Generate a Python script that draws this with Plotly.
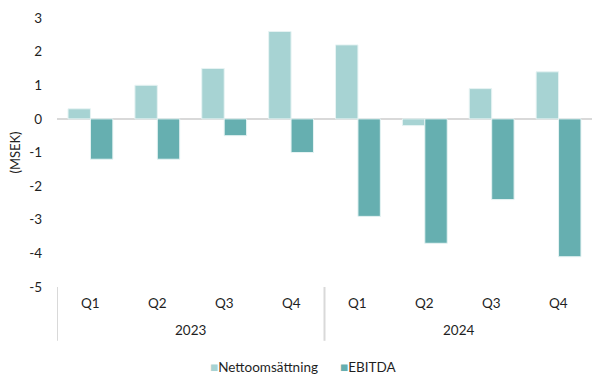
import plotly.graph_objects as go

# Quarterly figures, MSEK
years = ["2023", "2024"]
quarters = ["Q1", "Q2", "Q3", "Q4"]
netto = [0.3, 1.0, 1.5, 2.6, 2.2, -0.2, 0.9, 1.4]
ebitda = [-1.2, -1.2, -0.5, -1.0, -2.9, -3.7, -2.4, -4.1]
y_ticks = [3, 2, 1, 0, -1, -2, -3, -4, -5]

FONT = "Lato"
TEXT = "#1f1f1f"
FS = 13.5
C_NETTO = "#A7D3D3"
C_EBITDA = "#66AFB0"
GRID = "#D9D9D9"

# one category per period, e.g. "2023 Q1"
periods = [f"{y} {q}" for y in years for q in quarters]

fig = go.Figure()
fig.add_trace(go.Bar(
    x=periods, y=netto, name="Nettoomsättning",
    marker=dict(color=C_NETTO, line=dict(color="#E6F3F3", width=1)),
))
fig.add_trace(go.Bar(
    x=periods, y=ebitda, name="EBITDA",
    marker=dict(color=C_EBITDA, line=dict(color="#E6F3F3", width=1)),
))

fig.update_layout(
    width=592, height=374,
    margin=dict(l=57, r=0, t=18, b=87),
    paper_bgcolor="white", plot_bgcolor="white",
    barmode="group", bargap=0.33, bargroupgap=0,
    font=dict(family=FONT, size=FS, color=TEXT),
    showlegend=False,
)
fig.update_yaxes(
    range=[-5, 3], tickvals=y_ticks, ticktext=[str(v) for v in y_ticks],
    showgrid=False, zeroline=True, zerolinecolor=GRID, zerolinewidth=2,
    showline=False, ticks="", ticklabelstandoff=14,
    title=dict(text="(MSEK)", font=dict(size=FS - 0.5, color=TEXT), standoff=5),
    tickfont=dict(size=FS, color=TEXT),
)
fig.update_xaxes(
    type="category", categoryorder="array", categoryarray=periods,
    range=[-0.5, len(periods) - 0.5],
    showgrid=False, showline=False, ticks="", showticklabels=False,
)

annotations = []
shapes = []
# quarter labels and year labels below the plot
for i, p in enumerate(periods):
    annotations.append(dict(
        x=p, xref="x", y=-0.059, yref="paper", yanchor="middle",
        text=p.split(" ")[1], showarrow=False, font=dict(size=FS, color=TEXT),
    ))
for j, yr in enumerate(years):
    center = j * len(quarters) + (len(quarters) - 1) / 2
    annotations.append(dict(
        x=center, xref="x", y=-0.16, yref="paper", yanchor="middle",
        text=yr, showarrow=False, font=dict(size=FS, color=TEXT),
    ))
    # group divider at the start of each year
    x0 = j * len(quarters) - 0.5
    shapes.append(dict(
        type="line", xref="x", yref="paper", x0=x0, x1=x0, y0=0, y1=-0.2,
        line=dict(color=GRID, width=2),
    ))

# legend row: coloured swatch followed by series name
legend_items = [("Nettoomsättning", C_NETTO, 0.283), ("EBITDA", C_EBITDA, 0.526)]
for name, c, xpos in legend_items:
    annotations.append(dict(
        x=xpos, xref="paper", xanchor="left", y=-0.298, yref="paper", yanchor="middle",
        text=f"<span style='color:{c}'>■</span>{name}", showarrow=False,
        font=dict(size=FS, color=TEXT),
    ))

fig.update_layout(annotations=annotations, shapes=shapes)

fig.write_html("out.html")
